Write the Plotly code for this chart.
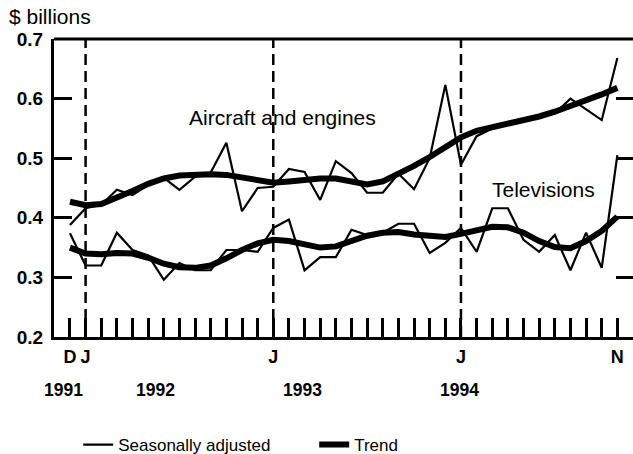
import plotly.graph_objects as go

# Months from Dec 1991 (index 0) to Nov 1994 (index 35)
months = list(range(36))
month_tick_labels = {0: "D", 1: "J", 13: "J", 25: "J", 35: "N"}
years = ["1991", "1992", "1993", "1994"]
year_pos = [-0.4, 5.5, 14.85, 24.9]
january_marks = [1, 13, 25]

aircraft_sa = [0.388, 0.416, 0.422, 0.447, 0.438, 0.455, 0.467, 0.447, 0.469, 0.476,
               0.526, 0.411, 0.450, 0.452, 0.482, 0.477, 0.430, 0.495, 0.475, 0.442,
               0.442, 0.474, 0.448, 0.500, 0.623, 0.489, 0.537, 0.550, 0.557, 0.563,
               0.568, 0.575, 0.600, 0.582, 0.564, 0.668]
aircraft_trend = [0.427, 0.421, 0.423, 0.433, 0.445, 0.457, 0.466, 0.471, 0.473, 0.473,
                  0.472, 0.468, 0.462, 0.459, 0.461, 0.464, 0.466, 0.466, 0.462, 0.456,
                  0.461, 0.473, 0.487, 0.502, 0.519, 0.535, 0.546, 0.552, 0.557, 0.564,
                  0.570, 0.578, 0.587, 0.597, 0.607, 0.618]
tv_sa = [0.374, 0.320, 0.320, 0.375, 0.346, 0.337, 0.296, 0.324, 0.312, 0.312,
         0.346, 0.346, 0.343, 0.383, 0.397, 0.312, 0.334, 0.334, 0.380, 0.371,
         0.375, 0.390, 0.390, 0.341, 0.358, 0.383, 0.343, 0.416, 0.416, 0.363,
         0.343, 0.371, 0.312, 0.375, 0.316, 0.505]
tv_trend = [0.350, 0.340, 0.339, 0.341, 0.340, 0.333, 0.323, 0.317, 0.316, 0.320,
            0.332, 0.346, 0.357, 0.363, 0.361, 0.355, 0.350, 0.352, 0.362, 0.370,
            0.375, 0.376, 0.372, 0.369, 0.368, 0.373, 0.380, 0.385, 0.384, 0.375,
            0.361, 0.351, 0.349, 0.361, 0.378, 0.402]

y_ticks = [0.2, 0.3, 0.4, 0.5, 0.6, 0.7]
right_ticks = [0.3, 0.4, 0.5, 0.6]

FONT = "Liberation Sans, Arial, Helvetica, sans-serif"
thin = dict(color="black", width=2.2)
thick = dict(color="black", width=6)

fig = go.Figure()
fig.add_trace(go.Scatter(x=months, y=aircraft_sa, mode="lines", line=thin,
                         name="Seasonally adjusted", legendgroup="sa", showlegend=True))
fig.add_trace(go.Scatter(x=months, y=aircraft_trend, mode="lines", line=thick,
                         name="Trend", legendgroup="tr", showlegend=True))
fig.add_trace(go.Scatter(x=months, y=tv_sa, mode="lines", line=thin,
                         name="Seasonally adjusted", legendgroup="sa", showlegend=False,
                         yaxis="y2"))
fig.add_trace(go.Scatter(x=months, y=tv_trend, mode="lines", line=thick,
                         name="Trend", legendgroup="tr", showlegend=False, yaxis="y2"))

shapes = []
for m in january_marks:
    shapes.append(dict(type="line", xref="x", yref="paper", x0=m, x1=m, y0=0, y1=1,
                       line=dict(color="black", width=2.5, dash="11px,6px"), layer="below"))
# top frame line
shapes.append(dict(type="line", xref="paper", yref="paper", x0=0, x1=1, y0=1, y1=1,
                   line=dict(color="black", width=3)))

annotations = [
    dict(text="$ billions", x=-47 / 579, y=1.0, xref="paper", yref="paper",
         xanchor="left", yanchor="bottom", yshift=9, showarrow=False,
         font=dict(family=FONT, size=21, color="black")),
    dict(text="Aircraft and engines", x=13.6, y=0.569, xref="x", yref="y",
         showarrow=False, font=dict(family=FONT, size=21, color="black")),
    dict(text="Televisions", x=30.3, y=0.447, xref="x", yref="y",
         showarrow=False, font=dict(family=FONT, size=21, color="black")),
]
for yr, xp in zip(years, year_pos):
    annotations.append(dict(text="<b>" + yr + "</b>", x=xp, y=-53 / 298, xref="x", yref="paper",
                            showarrow=False, yanchor="middle",
                            font=dict(family=FONT, size=17.5, color="black")))

fig.update_layout(
    width=633, height=454,
    margin=dict(l=54, r=0, t=39, b=117, autoexpand=False),
    paper_bgcolor="white", plot_bgcolor="white",
    font=dict(family=FONT, color="black"),
    xaxis=dict(range=[-1.02, 36.0], showgrid=False, zeroline=False, automargin=False,
               showline=True, linecolor="black", linewidth=3,
               tickmode="array", tickvals=months,
               ticktext=["<b>" + month_tick_labels[m] + "</b>" if m in month_tick_labels else "" for m in months],
               ticks="inside", ticklen=19, tickwidth=3, tickcolor="black",
               tickfont=dict(family=FONT, size=18, color="black"), ticklabelstandoff=1),
    yaxis=dict(range=[0.2, 0.7], showgrid=False, zeroline=False, automargin=False,
               showline=True, linecolor="black", linewidth=3,
               tickmode="array", tickvals=y_ticks,
               ticktext=["<b>%.1f</b>" % v for v in y_ticks],
               ticks="inside", ticklen=18, tickwidth=3, tickcolor="black",
               tickfont=dict(family=FONT, size=19, color="black"), ticklabelstandoff=4),
    yaxis2=dict(range=[0.2, 0.7], overlaying="y", side="right", showgrid=False,
                zeroline=False, showline=False, automargin=False,
                tickmode="array", tickvals=right_ticks,
                showticklabels=False, ticks="inside", ticklen=17, tickwidth=3,
                tickcolor="black"),
    showlegend=True,
    legend=dict(orientation="h", x=0.0418, y=-108 / 298, xanchor="left", yanchor="middle",
                font=dict(family=FONT, size=17, color="black"), bgcolor="rgba(0,0,0,0)",
                itemwidth=30, tracegroupgap=0, entrywidth=191, entrywidthmode="pixels"),
    shapes=shapes,
    annotations=annotations,
)

fig.write_html("out.html", config={"displayModeBar": False},
               post_script="document.body.style.margin='0px';document.body.style.overflow='hidden';")
